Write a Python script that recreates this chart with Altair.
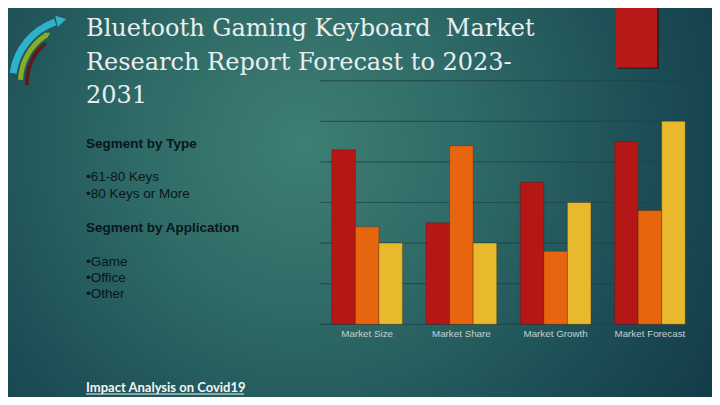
import altair as alt
import pandas as pd
import math

# ---------------- data ----------------
categories = ["Market Size", "Market Share", "Market Growth", "Market Forecast"]
series_names = ["Series 1", "Series 2", "Series 3"]
series1 = [4.3, 2.5, 3.5, 4.5]
series2 = [2.4, 4.4, 1.8, 2.8]
series3 = [2.0, 2.0, 3.0, 5.0]
grid_ticks = [0, 1, 2, 3, 4, 5, 6]

title_lines = ["Bluetooth Gaming Keyboard\u00a0 Market",
               "Research Report Forecast to 2023-",
               "2031"]
left_lines = ["Segment by Type", "•61-80 Keys", "•80 Keys or More",
              "Segment by Application", "•Game", "•Office", "•Other"]
left_bold = [True, False, False, True, False, False, False]
footer_text = "Impact Analysis on Covid19"

bar_colors = ["#b51616", "#e8650f", "#e8b92c"]

# ---------------- layout helpers (page coords -> chart coords) ----------------
OFF = 8
W, H = 704, 389
def px(v):
    return v - OFF

rows = []
for s, vals in zip(series_names, [series1, series2, series3]):
    for c, v in zip(categories, vals):
        rows.append({"category": c, "series": s, "value": v})
bars_df = pd.DataFrame(rows)

xscale = alt.Scale(domain=categories, range=[px(320), px(697)],
                   paddingInner=0.25, paddingOuter=0.125)
yscale = alt.Scale(domain=[0, 6], range=[px(324.3), px(80.7)], nice=False, zero=True)

one = pd.DataFrame({"k": [0]})

# background gradient
bg = alt.Chart(one).mark_rect(
    color=alt.Gradient(
        gradient="radial",
        stops=[alt.GradientStop(offset=0, color="#3e7e73"),
               alt.GradientStop(offset=0.3, color="#2f6b67"),
               alt.GradientStop(offset=0.65, color="#1c4d55"),
               alt.GradientStop(offset=1, color="#0e3343")],
        x1=0.42, y1=0.42, r1=0, x2=0.42, y2=0.42, r2=0.75)
).encode(x=alt.value(-OFF), x2=alt.value(W + OFF), y=alt.value(-OFF), y2=alt.value(H + OFF))

# logo (decorative swoosh)
cx, cy = px(76), px(82)
logo_arcs = []
for (r1, r2, t1, t2, col) in [(60, 67, 4.85, 5.95, "#2fb2c9"),
                              (53, 58, 4.75, 5.7, "#86ad2a"),
                              (47, 51, 4.65, 5.55, "#5b1c1c")]:
    logo_arcs.append(alt.Chart(one).mark_arc(
        x=cx, y=cy, radius=r2, radius2=r1, theta=t1, theta2=t2, color=col
    ).encode(opacity=alt.value(1)))
heads = []
for (r, t, size, col) in [(63.5, 6.05, 130, "#2fb2c9"), (55.5, 5.75, 45, "#86ad2a"), (49, 5.6, 28, "#5b1c1c")]:
    hx = cx + r * math.sin(t)
    hy = cy - r * math.cos(t)
    ang = (math.degrees(t) + 0) % 360
    heads.append(alt.Chart(one).mark_point(
        shape="triangle-right", filled=True, size=size, color=col, opacity=1,
        angle=round(ang, 1)
    ).encode(x=alt.value(hx), y=alt.value(hy)))

# decorative red block at top right
red_shadow = alt.Chart(one).mark_rect(color="#2a1010", opacity=0.6).encode(
    x=alt.value(px(617)), x2=alt.value(px(659)), y=alt.value(-OFF), y2=alt.value(px(69)))
red_block = alt.Chart(one).mark_rect(color="#b81a1a").encode(
    x=alt.value(px(616)), x2=alt.value(px(657)), y=alt.value(-OFF), y2=alt.value(px(67.5)))

# title
title_df = pd.DataFrame({"t": title_lines, "y": [px(36), px(69.5), px(103)]})
title = alt.Chart(title_df).mark_text(
    align="left", baseline="alphabetic", font="DejaVu Serif", fontSize=24,
    color="#e8eef0"
).encode(x=alt.value(px(86)), y=alt.Y("y:Q", scale=None), text="t:N")

# left text
left_df = pd.DataFrame({"t": left_lines,
                        "y": [px(144), px(177.3), px(194), px(227.5), px(261.5), px(277.8), px(294)],
                        "b": ["bold" if b else "normal" for b in left_bold]})
left_bold_txt = alt.Chart(left_df[left_df.b == "bold"]).mark_text(
    align="left", baseline="middle", font="Liberation Sans", fontSize=13.5,
    fontWeight="bold", color="#0a1618"
).encode(x=alt.value(px(86)), y=alt.Y("y:Q", scale=None), text="t:N")
left_norm_txt = alt.Chart(left_df[left_df.b == "normal"]).mark_text(
    align="left", baseline="middle", font="Liberation Sans", fontSize=13.5,
    color="#0a1618"
).encode(x=alt.value(px(86)), y=alt.Y("y:Q", scale=None), text="t:N")

# grid lines
grid_df = pd.DataFrame({"tick": grid_ticks})
grid = alt.Chart(grid_df).mark_rule(color="#1c4349", strokeWidth=1.2, opacity=0.7).encode(
    y=alt.Y("tick:Q", scale=yscale, axis=None),
    x=alt.value(px(320)), x2=alt.value(px(697)))

# bars
bars = alt.Chart(bars_df).mark_bar(stroke="#3a1a10", strokeWidth=0.6, strokeOpacity=0.5).encode(
    x=alt.X("category:N", scale=xscale, axis=None, sort=categories),
    xOffset=alt.XOffset("series:N", sort=series_names, scale=alt.Scale(paddingInner=0, paddingOuter=0)),
    y=alt.Y("value:Q", scale=yscale, axis=None),
    color=alt.Color("series:N", scale=alt.Scale(domain=series_names, range=bar_colors), legend=None))

# category labels
cat_df = pd.DataFrame({"category": categories})
cat_labels = alt.Chart(cat_df).mark_text(
    baseline="middle", font="Liberation Sans", fontSize=9.8, color="#c3d0d0"
).encode(x=alt.X("category:N", scale=xscale, axis=None, sort=categories),
         y=alt.value(px(333.5)), text="category:N")

# footer
footer = alt.Chart(one).mark_text(
    align="left", baseline="middle", font="Lato", fontSize=13, fontWeight="bold",
    color="#f2f5f5", text=footer_text
).encode(x=alt.value(px(86)), y=alt.value(px(387.5)))
underline = alt.Chart(one).mark_rule(color="#f2f5f5", strokeWidth=1).encode(
    x=alt.value(px(86)), x2=alt.value(px(244)), y=alt.value(px(394)))

chart = alt.layer(
    bg, *logo_arcs, *heads, red_shadow, red_block, title, left_bold_txt, left_norm_txt,
    grid, bars, cat_labels, footer, underline
).properties(
    width=W, height=H, padding=0,
    autosize=alt.AutoSizeParams(type="none")
).configure_view(stroke=None).configure(background="#163f4a")

chart.save("out.html", embed_options={"renderer": "svg", "actions": False})
